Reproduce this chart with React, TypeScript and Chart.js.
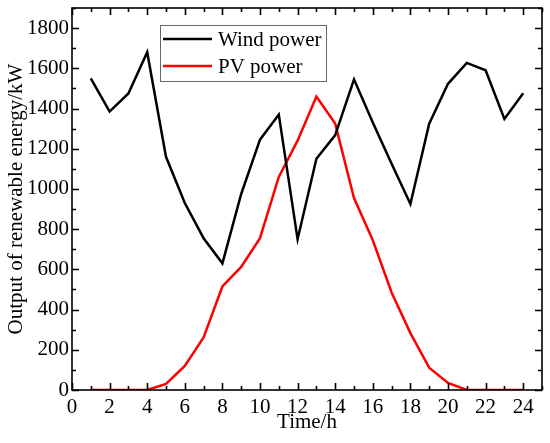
import React, { useEffect, useRef } from 'react';
import { Chart, registerables } from 'chart.js';

Chart.register(...registerables);

// hours of the day
const hours = [1, 2, 3, 4, 5, 6, 7, 8, 9, 10, 11, 12, 13, 14, 15, 16, 17, 18, 19, 20, 21, 22, 23, 24];

// (kW)
const windPower = [1550, 1385, 1475, 1680, 1160, 930, 755, 630, 975, 1245, 1370, 750, 1150, 1268, 1545, 1330, 1125, 925, 1325, 1523, 1627, 1590, 1348, 1476];
const pvPower = [0, 0, 0, 0, 30, 120, 262, 515, 612, 755, 1060, 1240, 1460, 1325, 955, 745, 485, 283, 111, 35, 0, 0, 0, 0];

const seriesLabels = ['Wind power', 'PV power'];
const seriesColors = ['#000000', '#ff0000'];

const xMax = 25;
const xMajor = 2;
const xMinor = 1;
const yMax = 1900;
const yMajor = 200;
const yMinor = 100;

const FONT = 'Liberation Serif, Times New Roman, serif';

// frame with inward ticks on all four sides
const framePlugin = {
  id: 'frame',
  afterDraw(chart: any) {
    const { ctx, chartArea: a, scales } = chart;
    const sx = scales.x;
    const sy = scales.y;
    ctx.save();
    ctx.strokeStyle = '#000';
    ctx.lineWidth = 1.6;
    ctx.strokeRect(a.left, a.top, a.right - a.left, a.bottom - a.top);
    ctx.beginPath();
    for (let v = 0; v <= xMax; v += xMinor) {
      const px = Math.round(sx.getPixelForValue(v)) + 0.5;
      const len = v % xMajor === 0 ? 7 : 4;
      ctx.moveTo(px, a.bottom);
      ctx.lineTo(px, a.bottom - len);
      ctx.moveTo(px, a.top);
      ctx.lineTo(px, a.top + len);
    }
    for (let v = 0; v <= yMax; v += yMinor) {
      const py = Math.round(sy.getPixelForValue(v)) + 0.5;
      const len = v % yMajor === 0 ? 7 : 4;
      ctx.moveTo(a.left, py);
      ctx.lineTo(a.left + len, py);
      ctx.moveTo(a.right, py);
      ctx.lineTo(a.right - len, py);
    }
    ctx.stroke();
    ctx.restore();
  }
};

// legend box placed inside the plot
const legendPlugin = {
  id: 'innerLegend',
  afterDatasetsDraw(chart: any) {
    const { ctx, chartArea: a } = chart;
    const left = a.left + 88;
    const top = a.top + 17;
    const w = 166;
    const h = 56;
    ctx.save();
    ctx.fillStyle = '#fff';
    ctx.fillRect(left, top, w, h);
    ctx.strokeStyle = '#666';
    ctx.lineWidth = 1;
    ctx.strokeRect(left + 0.5, top + 0.5, w, h);
    ctx.font = `21px ${FONT}`;
    ctx.textBaseline = 'middle';
    chart.data.datasets.forEach((ds: any, i: number) => {
      const cy = top + 14 + i * 27;
      ctx.strokeStyle = ds.borderColor;
      ctx.lineWidth = 2.5;
      ctx.beginPath();
      ctx.moveTo(left + 3, cy);
      ctx.lineTo(left + 52, cy);
      ctx.stroke();
      ctx.fillStyle = '#000';
      ctx.fillText(ds.label, left + 58, cy + 1);
    });
    ctx.restore();
  }
};

const App: React.FC = () => {
  const canvasRef = useRef<HTMLCanvasElement | null>(null);

  useEffect(() => {
    if (!canvasRef.current) return;
    const ctx = canvasRef.current.getContext('2d');
    if (!ctx) return;

    const chart = new Chart(ctx, {
      type: 'line',
      data: {
        datasets: [
          {
            label: seriesLabels[0],
            data: hours.map((h, i) => ({ x: h, y: windPower[i] })),
            borderColor: seriesColors[0],
            borderWidth: 2.5,
            pointRadius: 0,
            tension: 0
          },
          {
            label: seriesLabels[1],
            data: hours.map((h, i) => ({ x: h, y: pvPower[i] })),
            borderColor: seriesColors[1],
            borderWidth: 2.5,
            pointRadius: 0,
            tension: 0
          }
        ]
      },
      options: {
        animation: false,
        responsive: true,
        maintainAspectRatio: false,
        layout: { padding: { top: 8, right: 8, left: 0, bottom: 0 } },
        plugins: {
          legend: { display: false },
          tooltip: { enabled: false }
        },
        scales: {
          x: {
            type: 'linear',
            min: 0,
            max: xMax,
            afterFit: (s: any) => {
              s.height = 53;
              s.paddingLeft = 0;
              s.paddingRight = 0;
            },
            grid: { display: false, drawTicks: false },
            border: { display: false },
            ticks: {
              stepSize: xMajor,
              includeBounds: false,
              color: '#000',
              padding: 5,
              maxRotation: 0,
              callback: (v: any) => String(v),
              font: { family: FONT, size: 21 }
            },
            title: {
              display: true,
              text: 'Time/h',
              color: '#000',
              padding: { top: 0, bottom: 8 },
              font: { family: FONT, size: 21 }
            }
          },
          y: {
            min: 0,
            max: yMax,
            afterFit: (s: any) => {
              s.width = 72;
              s.paddingTop = 0;
              s.paddingBottom = 0;
            },
            grid: { display: false, drawTicks: false },
            border: { display: false },
            ticks: {
              stepSize: yMajor,
              includeBounds: false,
              color: '#000',
              padding: 3,
              callback: (v: any) => String(v),
              font: { family: FONT, size: 21 }
            },
            title: {
              display: true,
              text: 'Output of renewable energy/kW',
              color: '#000',
              padding: { top: 4, bottom: 0 },
              font: { family: FONT, size: 21 }
            }
          }
        }
      },
      plugins: [framePlugin, legendPlugin]
    });

    return () => {
      chart.destroy();
    };
  }, []);

  return (
    <div style={{ position: 'absolute', left: 0, top: 0, width: 550, height: 443, background: '#fff' }}>
      <canvas ref={canvasRef} />
    </div>
  );
};

export default App;
